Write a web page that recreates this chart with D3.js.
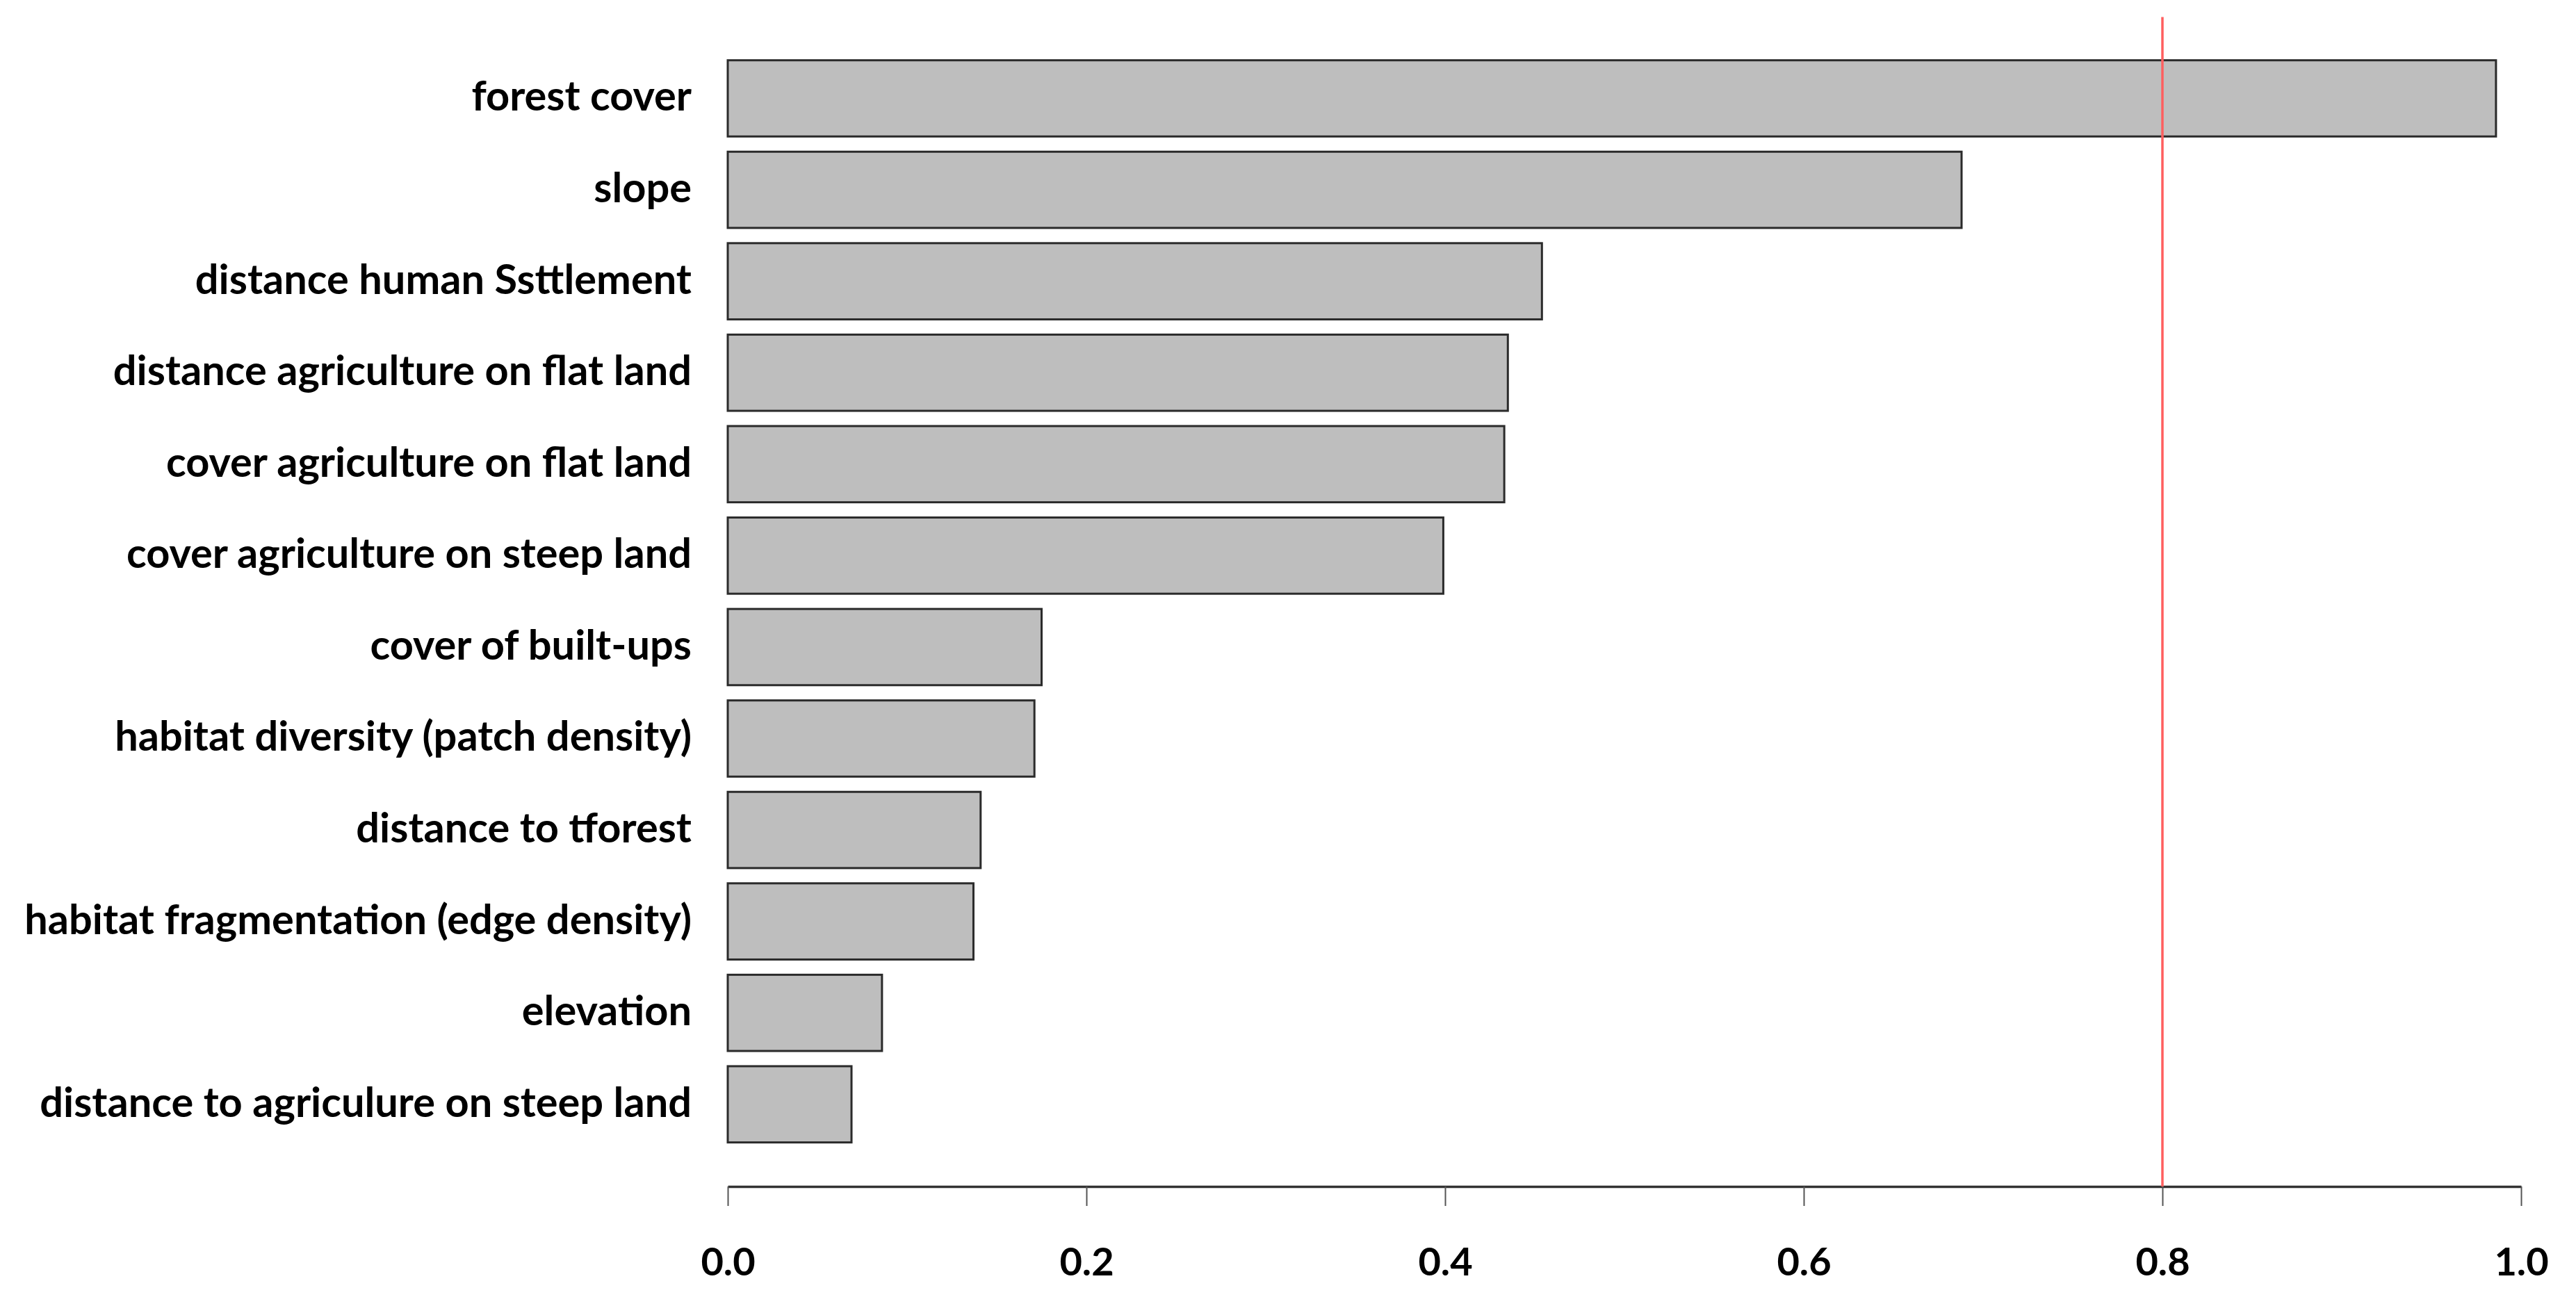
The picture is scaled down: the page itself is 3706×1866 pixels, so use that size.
<!DOCTYPE html>
<html>
<head>
<meta charset="utf-8">
<script src="https://cdn.jsdelivr.net/npm/d3@7"></script>
<style>
  html, body { margin: 0; padding: 0; background: #ffffff; }
  svg { display: block; }
</style>
</head>
<body>
<svg id="chart" width="3706" height="1866"></svg>
<script>
// ---- data ----
const categories = [
  "forest cover",
  "slope",
  "distance human Ssttlement",
  "distance agriculture on flat land",
  "cover agriculture on flat land",
  "cover agriculture on steep land",
  "cover of built-ups",
  "habitat diversity (patch density)",
  "distance to tforest",
  "habitat fragmentation (edge density)",
  "elevation",
  "distance to agriculure on steep land"
];
const values = [0.986, 0.688, 0.454, 0.435, 0.433, 0.399, 0.175, 0.171, 0.141, 0.137, 0.086, 0.069];
const tickValues = [0.0, 0.2, 0.4, 0.6, 0.8, 1.0];
const thresholdValue = [0.8];

// ---- layout ----
const W = 3706, H = 1866;
const plotLeft = 1047, plotRight = 3627;
const barsTop = 86.7, barsBottom = 1643.6;
const plotTop = 24.4, plotBottom = 1707;
const labelRight = 995;
const fontFamily = "Lato, 'Open Sans', 'Noto Sans', sans-serif";

const svg = d3.select("#chart");

const x = d3.scaleLinear().domain([0, 1]).range([plotLeft, plotRight]);
const y = d3.scaleBand().domain(categories).range([barsTop, barsBottom])
  .paddingInner(1 / 6).paddingOuter(0);

// bars
svg.append("g").selectAll("rect")
  .data(categories)
  .join("rect")
  .attr("x", x(0))
  .attr("y", d => y(d))
  .attr("width", (d, i) => x(values[i]) - x(0))
  .attr("height", y.bandwidth())
  .attr("fill", "#bebebe")
  .attr("stroke", "#2b2b2b")
  .attr("stroke-width", 3);

// category labels
const labels = svg.append("g").selectAll("text")
  .data(categories)
  .join("text")
  .attr("x", labelRight)
  .attr("y", d => y(d) + y.bandwidth() / 2)
  .attr("text-anchor", "end")
  .attr("font-family", fontFamily)
  .attr("font-weight", "bold")
  .attr("font-size", 56)
  .attr("fill", "#000")
  .text(d => d);

// fit font size so widest label matches reference width
let maxW = 0;
labels.each(function () { maxW = Math.max(maxW, this.getComputedTextLength()); });
const fs = 56 * 960 / maxW;
labels.attr("font-size", fs).attr("dy", (0.3 * fs) + "px");

// x axis
const axis = d3.axisBottom(x)
  .tickValues(tickValues)
  .tickSize(28)
  .tickSizeOuter(0)
  .tickFormat(d3.format(".1f"));

const gx = svg.append("g")
  .attr("transform", `translate(0,${plotBottom})`)
  .call(axis);
gx.select(".domain").attr("stroke", "#333").attr("stroke-width", 3.5);
gx.selectAll(".tick line").attr("stroke", "#555").attr("stroke-width", 2);
gx.selectAll(".tick text")
  .attr("y", 128)
  .attr("dy", 0)
  .attr("fill", "#000")
  .attr("font-family", fontFamily)
  .attr("font-weight", "bold")
  .attr("font-size", 56);

// threshold line
svg.append("g").selectAll("line")
  .data(thresholdValue)
  .join("line")
  .attr("x1", d => x(d))
  .attr("x2", d => x(d))
  .attr("y1", plotTop)
  .attr("y2", plotBottom)
  .attr("stroke", "#ff5f5f")
  .attr("stroke-width", 3.5);
</script>
</body>
</html>
